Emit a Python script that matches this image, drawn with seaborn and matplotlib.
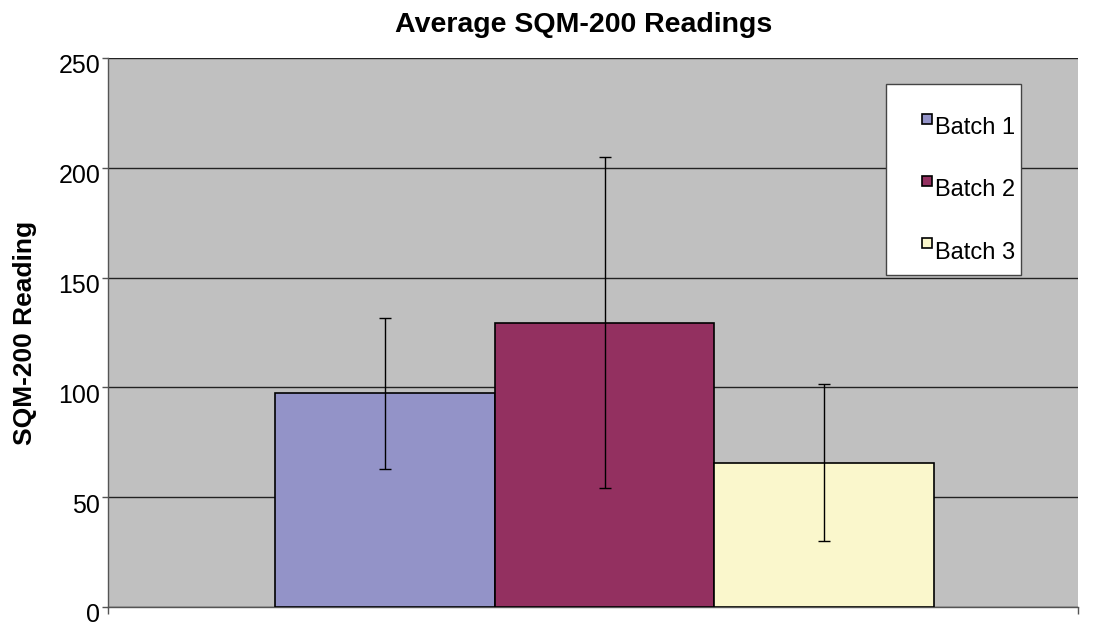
import matplotlib
matplotlib.use("Agg")
import matplotlib.pyplot as plt
import matplotlib.transforms as mtransforms
import seaborn as sns
import pandas as pd
from matplotlib.patches import Rectangle
from matplotlib.legend_handler import HandlerPatch

batches = ["Batch 1", "Batch 2", "Batch 3"]
means = [97.3, 129.5, 65.7]
errors = [34.3, 75.3, 35.8]
colors = ["#9393C8", "#933060", "#FAF7CC"]
yticks = [0, 50, 100, 150, 200, 250]

sns.set_theme(style="white")
plt.rcParams["font.family"] = ["Liberation Sans", "DejaVu Sans"]
plt.rcParams["text.color"] = "black"
plt.rcParams["axes.labelcolor"] = "black"
plt.rcParams["xtick.color"] = "black"
plt.rcParams["ytick.color"] = "black"

df = pd.DataFrame({"cat": [""] * len(batches), "batch": batches, "mean": means})

fig = plt.figure(figsize=(10.94, 6.27), dpi=100)
ax = fig.add_axes([0.0987, 0.0319, 0.8867, 0.8756])
ax.set_facecolor("#C0C0C0")

sns.barplot(data=df, x="cat", y="mean", hue="batch", hue_order=batches,
            palette=colors, saturation=1, width=0.679, edgecolor="black",
            linewidth=1.2, errorbar=None, ax=ax, zorder=3)

for cont, err in zip(ax.containers, errors):
    for bar in cont:
        xc = bar.get_x() + bar.get_width() / 2
        ax.errorbar(xc, bar.get_height(), yerr=err, fmt="none", ecolor="black",
                    elinewidth=1.0, capsize=4, capthick=1.0, zorder=4)

ax.set_xlim(-0.512, 0.488)
ax.set_ylim(0, 250)
ax.set_yticks(yticks)
ax.set_yticklabels([str(t) for t in yticks], fontsize=18)
ax.set_xticks([-0.512, 0.488])
ax.set_xticklabels(["", ""])
ax.yaxis.grid(True, color="#222222", linewidth=1.0, zorder=0)
ax.set_axisbelow(True)
ax.tick_params(axis="y", direction="out", length=4, width=1, color="#555555", left=True, pad=1.5)
ax.tick_params(axis="x", direction="out", length=5, width=1, color="#555555", bottom=True)
for s in ["top", "right"]:
    ax.spines[s].set_visible(False)
for s in ["left", "bottom"]:
    ax.spines[s].set_color("#555555")
    ax.spines[s].set_linewidth(1.0)

offset = mtransforms.ScaledTranslation(0, -0.06, fig.dpi_scale_trans)
for lbl in ax.get_yticklabels():
    lbl.set_transform(lbl.get_transform() + offset)

ax.set_xlabel("")
ax.set_ylabel("SQM-200 Reading", fontsize=19, fontweight="bold")
ax.yaxis.set_label_coords(-0.073, 0.5)
ax.set_title("Average SQM-200 Readings", fontsize=20.5, fontweight="bold", pad=18.7, x=0.49)

# legend frame
ax.add_patch(Rectangle((0.802, 0.605), 0.139, 0.348, transform=ax.transAxes,
                       facecolor="white", edgecolor="#444444", linewidth=1.0, zorder=5))


def small_square(legend, orig_handle, xdescent, ydescent, width, height, fontsize):
    s = 7.2
    return Rectangle((width - s - xdescent, height - s - ydescent + 3), s, s)


handles, labels = ax.get_legend_handles_labels()
leg = ax.legend(handles, labels, loc="upper right", bbox_to_anchor=(0.935, 0.892),
                fontsize=17, frameon=False, handlelength=1.2, handleheight=0.7,
                handletextpad=0.1, labelspacing=1.7, borderpad=0, borderaxespad=0,
                handler_map={Rectangle: HandlerPatch(patch_func=small_square)})
leg.set_zorder(6)
for h in leg.legend_handles:
    h.set_edgecolor("black")
    h.set_linewidth(1.2)

fig.savefig("out.png", dpi=100, facecolor="white")
